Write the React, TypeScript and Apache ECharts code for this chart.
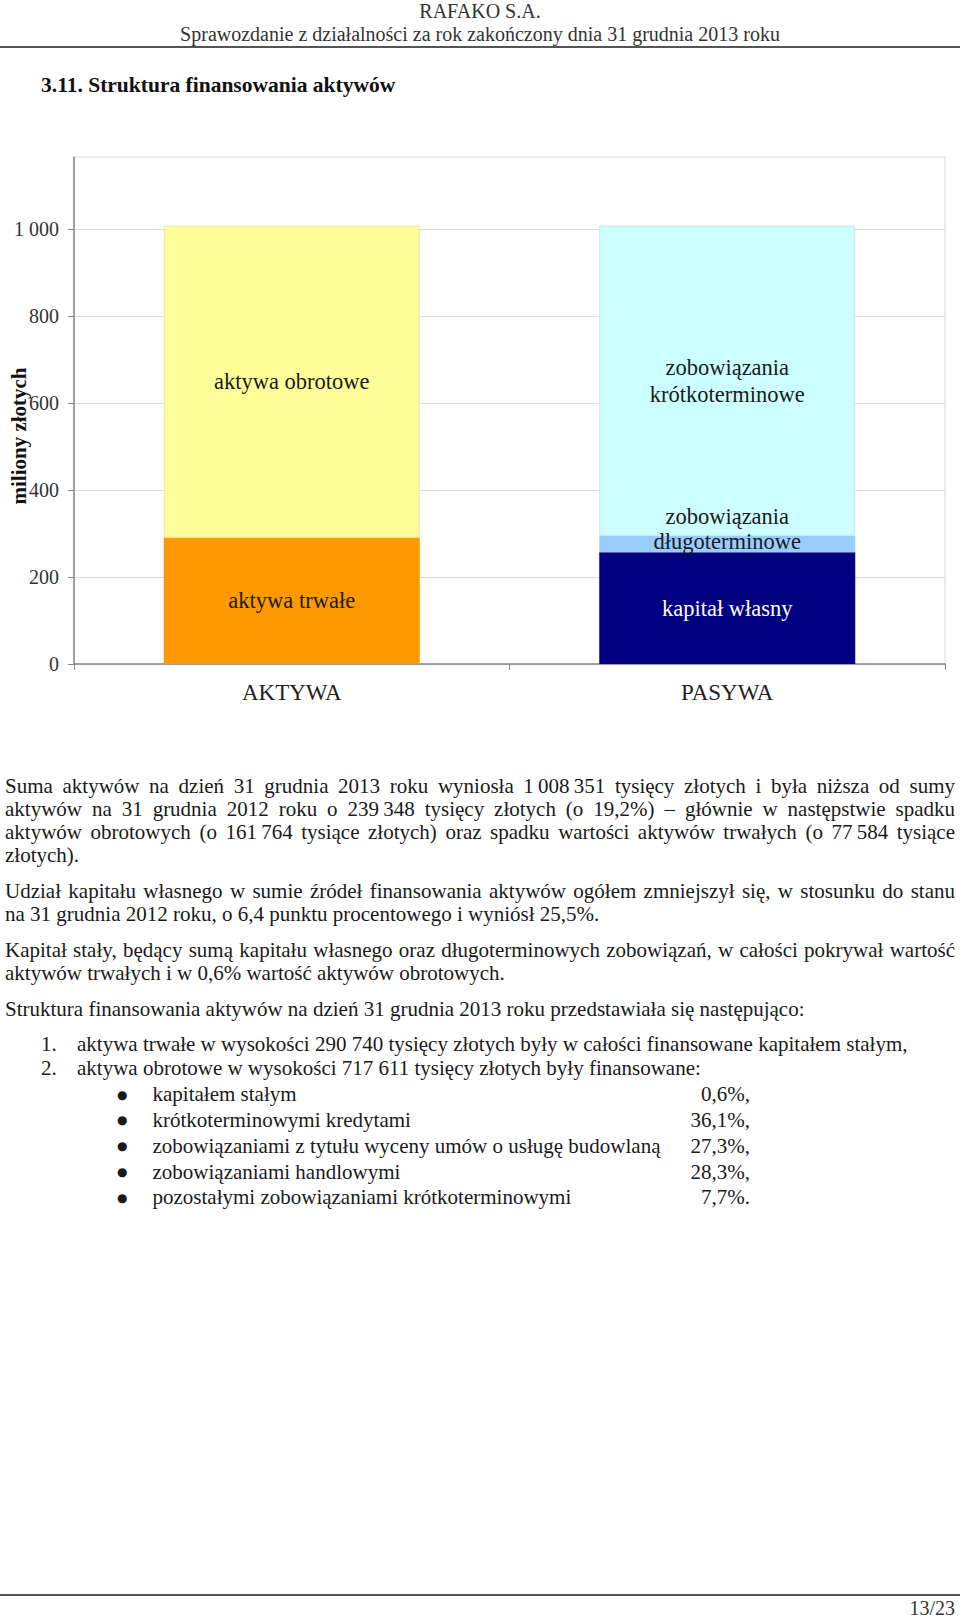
import React, { useEffect, useRef } from 'react';
import * as echarts from 'echarts';

// ---------- chart data (miliony złotych) ----------
const categories = ['AKTYWA', 'PASYWA'];
const aktywaTrwale = [290.74, null];
const aktywaObrotowe = [717.611, null];
const kapitalWlasny = [null, 257.1];
const zobowiazaniaDlugoterminowe = [null, 37.9];
const zobowiazaniaKrotkoterminowe = [null, 713.3];
const yTickValues = [0, 200, 400, 600, 800, 1000];
const yMax = 1166;

// ---------- page texts ----------
const headerCompany = 'RAFAKO S.A.';
const headerReport = 'Sprawozdanie z działalności za rok zakończony dnia 31 grudnia 2013 roku';
const sectionTitle = '3.11. Struktura finansowania aktywów';
const para1 = [
  'Suma aktywów na dzień 31 grudnia 2013 roku wyniosła 1\u2009008\u2009351 tysięcy złotych i była niższa od sumy',
  'aktywów na 31 grudnia 2012 roku o 239\u2009348 tysięcy złotych (o 19,2%) – głównie w następstwie spadku',
  'aktywów obrotowych (o 161\u2009764 tysiące złotych) oraz spadku wartości aktywów trwałych (o 77\u2009584 tysiące',
  'złotych).',
];
const para2 = [
  'Udział kapitału własnego w sumie źródeł finansowania aktywów ogółem zmniejszył się, w stosunku do stanu',
  'na 31 grudnia 2012 roku, o 6,4 punktu procentowego i wyniósł 25,5%.',
];
const para3 = [
  'Kapitał stały, będący sumą kapitału własnego oraz długoterminowych zobowiązań, w całości pokrywał wartość',
  'aktywów trwałych i w 0,6% wartość aktywów obrotowych.',
];
const para4 = ['Struktura finansowania aktywów na dzień 31 grudnia 2013 roku przedstawiała się następująco:'];
const numberedItems = [
  'aktywa trwałe w wysokości 290 740 tysięcy złotych były w całości finansowane kapitałem stałym,',
  'aktywa obrotowe w wysokości 717 611 tysięcy złotych były finansowane:',
];
const bulletLabels = [
  'kapitałem stałym',
  'krótkoterminowymi kredytami',
  'zobowiązaniami z tytułu wyceny umów o usługę budowlaną',
  'zobowiązaniami handlowymi',
  'pozostałymi zobowiązaniami krótkoterminowymi',
];
const bulletValues = ['0,6%,', '36,1%,', '27,3%,', '28,3%,', '7,7%.'];
const pageNumber = '13/23';

const F = '"Liberation Serif", "Times New Roman", serif';
const BODY = 21;

function fmtTick(v: number): string {
  if (v > 1000) return '';
  const s = String(Math.round(v));
  return s.replace(/\B(?=(\d{3})+(?!\d))/g, ' ');
}

function TextLine(props: { text: string; y: number; left?: number; width?: number; justify?: boolean; size?: number; align?: string; bold?: boolean; color?: string; family?: string }) {
  const { text, y, left = 5, width = 950, justify = false, size = BODY, align = 'left', bold = false, color = '#1a1a1a', family = F } = props;
  const a = justify ? 'justify' : align;
  return (
    <div
      style={{
        position: 'absolute',
        left,
        top: y - 12,
        width,
        height: 24,
        lineHeight: '24px',
        fontSize: size,
        fontFamily: family,
        fontWeight: bold ? 'bold' : 'normal',
        whiteSpace: 'nowrap',
        textAlign: a as any,
        textAlignLast: a as any,
        color,
      }}
    >
      {text}
    </div>
  );
}

function Chart() {
  const ref = useRef<HTMLDivElement>(null);
  useEffect(() => {
    if (!ref.current) return;
    const chart = echarts.init(ref.current, undefined, { renderer: 'svg' });
    const lbl = (text: string, color = '#1a1a1a', offset: number[] = [0, 0], lineHeight = 27) => ({
      show: true,
      position: 'inside',
      formatter: text,
      color,
      fontFamily: F,
      fontSize: 22.5,
      lineHeight,
      offset,
    });
    const base = { type: 'bar', stack: 'total', barWidth: 256 };
    chart.setOption({
      animation: false,
      backgroundColor: '#ffffff',
      grid: {
        left: 74,
        top: 17,
        width: 871,
        height: 507,
        show: true,
        borderColor: '#d9d9d9',
        borderWidth: 1,
        backgroundColor: 'transparent',
      },
      xAxis: {
        type: 'category',
        data: categories,
        axisLine: { show: true, lineStyle: { color: '#868686', width: 1.5 } },
        axisTick: { show: true, length: 6, alignWithLabel: false, lineStyle: { color: '#868686' } },
        axisLabel: { fontFamily: F, fontSize: 23, color: '#222', margin: 17 },
        splitLine: { show: false },
      },
      yAxis: {
        type: 'value',
        min: 0,
        max: yMax,
        interval: 200,
        axisLine: { show: true, lineStyle: { color: '#868686', width: 1.5 } },
        axisTick: { show: true, length: 6, lineStyle: { color: '#868686' }, customValues: yTickValues },
        axisLabel: { customValues: yTickValues, formatter: fmtTick, fontFamily: F, fontSize: 20, color: '#333', margin: 15 },
        splitLine: { show: true, lineStyle: { color: '#dcdcdc', width: 1 } },
      },
      graphic: [
        {
          type: 'text',
          x: 19,
          y: 296,
          rotation: Math.PI / 2,
          style: {
            text: 'miliony złotych',
            fontFamily: F,
            fontWeight: 'bold',
            fontSize: 21,
            fill: '#111',
            align: 'center',
            verticalAlign: 'middle',
          },
        },
      ],
      series: [
        { ...base, name: 'aktywa trwałe', data: aktywaTrwale, itemStyle: { color: '#FF9900' }, label: lbl('aktywa trwałe') },
        { ...base, name: 'aktywa obrotowe', data: aktywaObrotowe, itemStyle: { color: '#FFFF99', borderColor: '#e8e8a8', borderWidth: 1 }, label: lbl('aktywa obrotowe') },
        { ...base, name: 'kapitał własny', data: kapitalWlasny, itemStyle: { color: '#000080' }, label: lbl('kapitał własny', '#ffffff') },
        { ...base, name: 'zobowiązania długoterminowe', data: zobowiazaniaDlugoterminowe, itemStyle: { color: '#99CCFF' }, label: lbl('zobowiązania\ndługoterminowe', '#1a1a1a', [0, -15], 25) },
        { ...base, name: 'zobowiązania krótkoterminowe', data: zobowiazaniaKrotkoterminowe, itemStyle: { color: '#CCFFFF', borderColor: '#c8e8e8', borderWidth: 1 }, label: lbl('zobowiązania\nkrótkoterminowe') },
      ],
    });
    return () => chart.dispose();
  }, []);
  return <div ref={ref} style={{ position: 'absolute', left: 0, top: 140, width: 960, height: 580 }} />;
}

export default function App() {
  const p1Start = 785.6;
  const step = 23;
  return (
    <div style={{ position: 'absolute', left: 0, top: 0, width: 960, height: 1619, background: '#fff', fontFamily: F, color: '#1a1a1a', overflow: 'hidden' }}>
      <TextLine text={headerCompany} y={11} left={0} width={960} align="center" size={20} color="#333" />
      <TextLine text={headerReport} y={34} left={0} width={960} align="center" size={20} color="#333" />
      <div style={{ position: 'absolute', left: 0, top: 45.5, width: 960, height: 2, background: '#555' }} />
      <TextLine text={sectionTitle} y={85} left={41} width={600} size={21.5} bold color="#111" />

      <Chart />

      {para1.map((t, i) => (
        <TextLine key={'p1' + i} text={t} y={p1Start + i * step} justify={i < para1.length - 1} />
      ))}
      {para2.map((t, i) => (
        <TextLine key={'p2' + i} text={t} y={890.8 + i * step} justify={i < para2.length - 1} />
      ))}
      {para3.map((t, i) => (
        <TextLine key={'p3' + i} text={t} y={949.7 + i * step} justify={i < para3.length - 1} />
      ))}
      {para4.map((t, i) => (
        <TextLine key={'p4' + i} text={t} y={1008.5 + i * step} />
      ))}
      {numberedItems.map((t, i) => (
        <React.Fragment key={'n' + i}>
          <TextLine text={i + 1 + '.'} y={1043.6 + i * 24.8} left={41} width={40} />
          <TextLine text={t} y={1043.6 + i * 24.8} left={77} width={870} />
        </React.Fragment>
      ))}
      {bulletLabels.map((t, i) => (
        <React.Fragment key={'b' + i}>
          <TextLine text={'\u25CF'} y={1094.5 + i * 25.8} left={117} width={20} size={12} family='"DejaVu Sans", sans-serif' />
          <TextLine text={t} y={1094.2 + i * 25.8} left={152.5} width={560} />
          <TextLine text={bulletValues[i]} y={1094.2 + i * 25.8} left={650} width={100} align="right" />
        </React.Fragment>
      ))}

      <div style={{ position: 'absolute', left: 0, top: 1594, width: 960, height: 2, background: '#555' }} />
      <TextLine text={pageNumber} y={1608} left={855} width={100} align="right" size={20} color="#333" />
    </div>
  );
}
